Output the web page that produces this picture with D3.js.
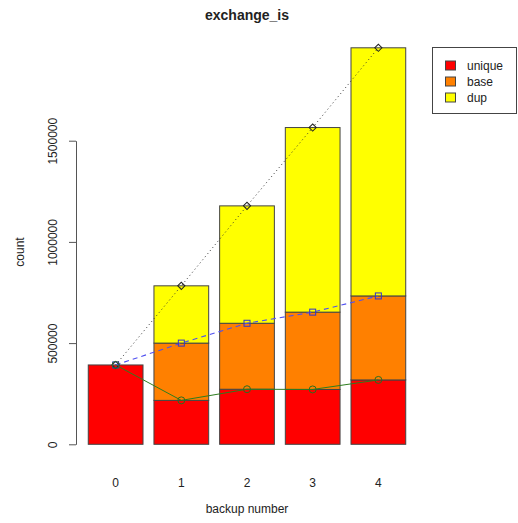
<!DOCTYPE html>
<html>
<head>
<meta charset="utf-8">
<script src="https://cdn.jsdelivr.net/npm/d3@7"></script>
<style>
  html, body { margin: 0; padding: 0; background: #fff; }
  svg { display: block; font-family: "Liberation Sans", Arial, sans-serif; }
</style>
</head>
<body>
<svg id="chart" width="518" height="523"></svg>
<script>
// Backup numbers and per-backup counts for each stacked segment
const backups = ["0", "1", "2", "3", "4"];
const uniqueCounts = [392000, 217000, 272000, 271000, 318000];
const baseCounts   = [0, 283000, 326000, 382000, 415000];
const dupCounts    = [0, 283000, 580000, 912000, 1226000];
const yTicks = [0, 500000, 1000000, 1500000];

const seriesNames = ["unique", "base", "dup"];
const seriesColors = ["#ff0000", "#ff8000", "#ffff00"];

const svg = d3.select("#chart");

// Scales
const x = d3.scaleBand()
  .domain(backups)
  .range([82.8, 411.2])
  .paddingInner(1 / 6)
  .paddingOuter(1 / 12);

const y = d3.scaleLinear()
  .domain([0, 1500000])
  .range([444.3, 140.7]);

// Stacked table built from the series arrays
const rows = backups.map((b, i) => ({
  backup: b, unique: uniqueCounts[i], base: baseCounts[i], dup: dupCounts[i]
}));
const stacked = d3.stack().keys(seriesNames)(rows);

// Bars
stacked.forEach((layer, li) => {
  svg.append("g")
    .selectAll("rect")
    .data(layer.filter(d => d[1] > d[0]))
    .join("rect")
    .attr("x", d => x(d.data.backup))
    .attr("y", d => y(d[1]))
    .attr("width", x.bandwidth())
    .attr("height", d => y(d[0]) - y(d[1]))
    .attr("fill", seriesColors[li])
    .attr("stroke", "#444")
    .attr("stroke-width", 1);
});

// Lines through cumulative totals
const cx = b => x(b) + x.bandwidth() / 2;
const cumUnique = uniqueCounts;
const cumBase = uniqueCounts.map((u, i) => u + baseCounts[i]);
const cumTotal = cumBase.map((v, i) => v + dupCounts[i]);

const line = d3.line().x((d, i) => cx(backups[i])).y(d => y(d));

svg.append("path").datum(cumTotal)
  .attr("d", line).attr("fill", "none")
  .attr("stroke", "#333").attr("stroke-width", 1)
  .attr("stroke-dasharray", "1,3");

svg.append("path").datum(cumBase)
  .attr("d", line).attr("fill", "none")
  .attr("stroke", "#5050f0").attr("stroke-width", 1.1)
  .attr("stroke-dasharray", "5,4");

svg.append("path").datum(cumUnique)
  .attr("d", line).attr("fill", "none")
  .attr("stroke", "#2d7d1e").attr("stroke-width", 1);

// Markers
svg.append("g").selectAll("path")
  .data(cumTotal).join("path")
  .attr("d", d3.symbol().type(d3.symbolSquare).size(26))
  .attr("transform", (d, i) => `translate(${cx(backups[i])},${y(d)}) rotate(45)`)
  .attr("fill", "none").attr("stroke", "#222").attr("stroke-width", 1);

svg.append("g").selectAll("rect")
  .data(cumBase).join("rect")
  .attr("x", (d, i) => cx(backups[i]) - 3)
  .attr("y", d => y(d) - 3)
  .attr("width", 6).attr("height", 6)
  .attr("fill", "none").attr("stroke", "#3333cc").attr("stroke-width", 1);

svg.append("g").selectAll("circle")
  .data(cumUnique).join("circle")
  .attr("cx", (d, i) => cx(backups[i]))
  .attr("cy", d => y(d))
  .attr("r", 3.5)
  .attr("fill", "none").attr("stroke", "#2d6d1e").attr("stroke-width", 1);

// Y axis
const yAxis = svg.append("g")
  .attr("transform", "translate(76,0)")
  .call(d3.axisLeft(y).tickValues(yTicks).tickFormat(d3.format("d")).tickSize(7).tickSizeOuter(0));
yAxis.select(".domain").attr("stroke", "#555");
yAxis.selectAll(".tick line").attr("stroke", "#555");
yAxis.selectAll(".tick text")
  .attr("font-size", 12).attr("fill", "#222")
  .attr("x", null).attr("dy", null)
  .attr("text-anchor", "middle")
  .attr("transform", "translate(-23,0) rotate(-90)")
  .attr("dominant-baseline", "central");

// X category labels
svg.append("g").selectAll("text")
  .data(backups).join("text")
  .attr("x", d => cx(d))
  .attr("y", 487)
  .attr("text-anchor", "middle")
  .attr("font-size", 12).attr("fill", "#222")
  .text(d => d);

// Titles
svg.append("text")
  .attr("x", 247).attr("y", 20)
  .attr("text-anchor", "middle")
  .attr("font-size", 14).attr("font-weight", "bold").attr("fill", "#222")
  .text("exchange_is");

svg.append("text")
  .attr("x", 247).attr("y", 513)
  .attr("text-anchor", "middle")
  .attr("font-size", 12).attr("fill", "#222")
  .text("backup number");

svg.append("text")
  .attr("transform", "translate(24,252) rotate(-90)")
  .attr("text-anchor", "middle")
  .attr("font-size", 12).attr("fill", "#222")
  .text("count");

// Legend
const legend = svg.append("g");
legend.append("rect")
  .attr("x", 432.5).attr("y", 47.5)
  .attr("width", 84).attr("height", 66)
  .attr("fill", "#fff").attr("stroke", "#444");
seriesNames.forEach((name, i) => {
  const cy = 65.5 + i * 16;
  legend.append("rect")
    .attr("x", 445.5).attr("y", cy - 4.5)
    .attr("width", 10).attr("height", 9)
    .attr("fill", seriesColors[i]).attr("stroke", "#444");
  legend.append("text")
    .attr("x", 467).attr("y", cy)
    .attr("dominant-baseline", "central")
    .attr("font-size", 12).attr("fill", "#222")
    .text(name);
});
</script>
</body>
</html>
